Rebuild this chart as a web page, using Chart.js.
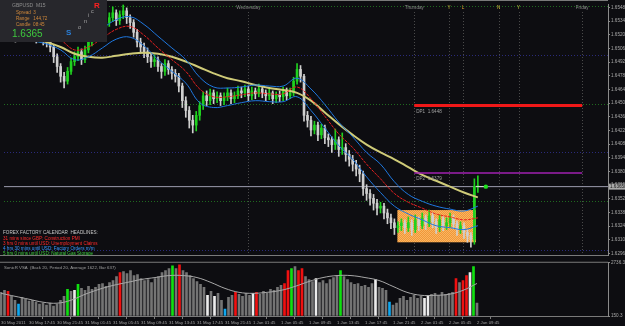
<!DOCTYPE html>
<html>
<head>
<meta charset="utf-8">
<script src="https://cdn.jsdelivr.net/npm/chart.js@4.4.1/dist/chart.umd.min.js"></script>
<style>
  html, body { margin: 0; padding: 0; background: #0d0d11; }
  #wrap { position: relative; width: 625px; height: 326px; overflow: hidden; background: #0d0d11; }
  #priceBox { position: absolute; left: 0; top: 0; width: 625px; height: 259px; }
  #volBox { position: absolute; left: 0; top: 259px; width: 625px; height: 67px; }
</style>
</head>
<body>
<div id="wrap">
  <div id="priceBox"><canvas id="price"></canvas></div>
  <div id="volBox"><canvas id="vol"></canvas></div>
</div>
<script>
// GBPUSD M15, one candle per 30 minutes
const opens = [
  1.6520,1.6523,1.6525,1.6521,1.6518,1.6523,1.6526,1.6528,1.6523,1.6520,
  1.6517,1.6519,1.6515,1.6513,1.6508,1.6498,1.6488,1.6478,1.6473,1.6483,
  1.6493,1.6498,1.6503,1.6495,1.6505,1.6513,1.6518,1.6523,1.6525,1.6528,
  1.6533,1.6538,1.6543,1.6535,1.6541,1.6545,1.6538,1.6533,1.6523,1.6513,
  1.6508,1.6503,1.6498,1.6493,1.6495,1.6488,1.6483,1.6491,1.6485,1.6481,
  1.6478,1.6468,1.6453,1.6443,1.6433,1.6428,1.6438,1.6448,1.6458,1.6453,
  1.6461,1.6455,1.6458,1.6453,1.6457,1.6461,1.6455,1.6458,1.6463,1.6461,
  1.6465,1.6458,1.6463,1.6460,1.6465,1.6461,1.6458,1.6461,1.6455,1.6459,
  1.6457,1.6463,1.6458,1.6461,1.6473,1.6485,1.6478,1.6438,1.6433,1.6423,
  1.6428,1.6418,1.6425,1.6415,1.6413,1.6408,1.6413,1.6403,1.6405,1.6398,
  1.6393,1.6388,1.6383,1.6378,1.6363,1.6358,1.6353,1.6348,1.6343,1.6345,
  1.6338,1.6333,1.6328,1.6323,1.6325,1.6328,1.6323,1.6328,1.6321,1.6331,
  1.6325,1.6333,1.6327,1.6335,1.6329,1.6323,1.6331,1.6325,1.6328,1.6333,
  1.6327,1.6321,1.6325,1.6318,1.6315,1.6311,1.6365
];
const highs = [
  1.6527,1.6530,1.6528,1.6524,1.6526,1.6531,1.6533,1.6530,1.6526,1.6523,
  1.6524,1.6521,1.6519,1.6516,1.6510,1.6501,1.6491,1.6482,1.6487,1.6497,
  1.6503,1.6508,1.6506,1.6509,1.6518,1.6523,1.6528,1.6531,1.6534,1.6538,
  1.6543,1.6549,1.6546,1.6545,1.6551,1.6548,1.6541,1.6536,1.6526,1.6517,
  1.6512,1.6507,1.6502,1.6500,1.6498,1.6491,1.6495,1.6494,1.6488,1.6485,
  1.6481,1.6471,1.6457,1.6447,1.6438,1.6442,1.6452,1.6462,1.6463,1.6465,
  1.6464,1.6462,1.6461,1.6461,1.6466,1.6464,1.6462,1.6468,1.6467,1.6469,
  1.6468,1.6467,1.6466,1.6470,1.6468,1.6464,1.6465,1.6463,1.6462,1.6463,
  1.6467,1.6466,1.6466,1.6477,1.6491,1.6489,1.6480,1.6442,1.6437,1.6432,
  1.6431,1.6429,1.6428,1.6419,1.6416,1.6424,1.6416,1.6420,1.6409,1.6402,
  1.6397,1.6392,1.6387,1.6381,1.6367,1.6362,1.6357,1.6352,1.6349,1.6348,
  1.6342,1.6337,1.6332,1.6329,1.6332,1.6331,1.6334,1.6331,1.6336,1.6334,
  1.6338,1.6336,1.6341,1.6338,1.6332,1.6336,1.6334,1.6333,1.6338,1.6336,
  1.6330,1.6329,1.6328,1.6321,1.6318,1.6373,1.6376
];
const lows = [
  1.6516,1.6519,1.6517,1.6513,1.6515,1.6520,1.6522,1.6519,1.6516,1.6512,
  1.6513,1.6510,1.6508,1.6503,1.6492,1.6482,1.6472,1.6466,1.6470,1.6480,
  1.6489,1.6494,1.6490,1.6492,1.6502,1.6509,1.6514,1.6519,1.6520,1.6524,
  1.6529,1.6534,1.6530,1.6531,1.6537,1.6532,1.6527,1.6518,1.6508,1.6503,
  1.6497,1.6492,1.6487,1.6488,1.6483,1.6476,1.6479,1.6480,1.6475,1.6472,
  1.6462,1.6446,1.6436,1.6425,1.6420,1.6422,1.6433,1.6444,1.6448,1.6449,
  1.6450,1.6451,1.6448,1.6449,1.6453,1.6450,1.6451,1.6455,1.6456,1.6457,
  1.6453,1.6454,1.6455,1.6457,1.6456,1.6453,1.6454,1.6450,1.6451,1.6452,
  1.6453,1.6454,1.6455,1.6458,1.6470,1.6472,1.6432,1.6426,1.6417,1.6419,
  1.6412,1.6414,1.6409,1.6406,1.6400,1.6403,1.6396,1.6398,1.6391,1.6386,
  1.6381,1.6376,1.6370,1.6356,1.6351,1.6346,1.6341,1.6336,1.6338,1.6332,
  1.6327,1.6322,1.6316,1.6318,1.6320,1.6317,1.6319,1.6315,1.6318,1.6320,
  1.6322,1.6321,1.6324,1.6323,1.6317,1.6319,1.6320,1.6321,1.6324,1.6322,
  1.6315,1.6317,1.6312,1.6308,1.6303,1.6306,1.6359
];
const closes = [
  1.6523,1.6525,1.6521,1.6518,1.6523,1.6526,1.6528,1.6523,1.6520,1.6517,
  1.6519,1.6515,1.6513,1.6508,1.6498,1.6488,1.6478,1.6473,1.6483,1.6493,
  1.6498,1.6503,1.6495,1.6505,1.6513,1.6518,1.6523,1.6525,1.6528,1.6533,
  1.6538,1.6543,1.6535,1.6541,1.6545,1.6538,1.6533,1.6523,1.6513,1.6508,
  1.6503,1.6498,1.6493,1.6495,1.6488,1.6483,1.6491,1.6485,1.6481,1.6478,
  1.6468,1.6453,1.6443,1.6433,1.6428,1.6438,1.6448,1.6458,1.6453,1.6461,
  1.6455,1.6458,1.6453,1.6457,1.6461,1.6455,1.6458,1.6463,1.6461,1.6465,
  1.6458,1.6463,1.6460,1.6465,1.6461,1.6458,1.6461,1.6455,1.6459,1.6457,
  1.6463,1.6458,1.6461,1.6473,1.6485,1.6478,1.6438,1.6433,1.6423,1.6428,
  1.6418,1.6425,1.6415,1.6413,1.6408,1.6413,1.6403,1.6405,1.6398,1.6393,
  1.6388,1.6383,1.6378,1.6363,1.6358,1.6353,1.6348,1.6343,1.6345,1.6338,
  1.6333,1.6328,1.6323,1.6325,1.6328,1.6323,1.6328,1.6321,1.6331,1.6325,
  1.6333,1.6327,1.6335,1.6329,1.6323,1.6331,1.6325,1.6328,1.6333,1.6327,
  1.6321,1.6325,1.6318,1.6315,1.6311,1.6365,1.6366
];

// moving averages, sampled every 8 M15 bars
const maU = [0,8,16,24,32,40,48,56,64,72,80,88,96,104,112,120,128,136,144,152,160,168,176,184,192,200,208,216,224,232,240,248,256,264,272];
const yellowMA = [1.6518,1.6517,1.6516,1.6513,1.6508,1.6501,1.6498,1.6497,1.6499,1.6501,1.6502,1.6501,1.6498,1.6493,1.6487,1.6481,1.6476,1.6473,1.6469,1.6466,1.6464,1.6461,1.6453,1.6441,1.6429,1.6418,1.6408,1.6400,1.6393,1.6385,1.6377,1.6371,1.6365,1.6359,1.6354];
const redMA = [1.6523,1.6523,1.6522,1.6520,1.6515,1.6505,1.6508,1.6517,1.6526,1.6529,1.6520,1.6507,1.6495,1.6483,1.6465,1.6457,1.6457,1.6459,1.6461,1.6460,1.6460,1.6467,1.6455,1.6437,1.6419,1.6405,1.6388,1.6373,1.6358,1.6349,1.6343,1.6337,1.6334,1.6331,1.6333];
const blueUpper = [1.6531,1.6531,1.6530,1.6528,1.6524,1.6515,1.6518,1.6527,1.6536,1.6539,1.6531,1.6519,1.6507,1.6495,1.6477,1.6467,1.6466,1.6467,1.6469,1.6468,1.6468,1.6476,1.6465,1.6449,1.6431,1.6416,1.6400,1.6388,1.6370,1.6357,1.6350,1.6345,1.6342,1.6340,1.6345];
const blueLower = [1.6515,1.6515,1.6514,1.6511,1.6505,1.6495,1.6498,1.6507,1.6516,1.6518,1.6509,1.6495,1.6483,1.6471,1.6451,1.6446,1.6448,1.6451,1.6453,1.6452,1.6452,1.6457,1.6443,1.6425,1.6407,1.6393,1.6375,1.6359,1.6345,1.6337,1.6331,1.6325,1.6323,1.6321,1.6325];

// SonicR VSA volume per candle and its bar kind (n normal, r red, g green, w white, b blue)
const volumes = [
  1300,1396,1348,1108,917,725,1060,965,869,917,
  821,725,773,677,773,629,725,917,1108,1444,
  1348,1396,1683,1491,1396,1587,1444,1539,1683,1731,
  1587,1779,1875,2066,2258,2306,2210,2354,2114,2162,
  1970,1875,1922,1779,1970,2066,2258,2354,2450,2593,
  2450,2641,2354,2258,2114,1970,1827,1683,1539,1156,
  1348,1108,1252,917,486,1060,1156,1300,1204,1108,
  1252,1156,1252,1300,1204,1348,1252,1444,1396,1539,
  1635,1731,2354,2450,2545,2354,2450,2066,1922,1827,
  1970,1779,1875,1731,1922,2018,2114,2354,2066,1922,
  1779,1683,1731,1587,1635,1539,1731,1922,1539,1491,
  1396,821,677,773,1012,1108,917,1060,1156,1012,
  1108,1012,1156,1204,1252,1156,1300,1204,1252,1300,
  1970,1779,1875,2114,2258,2545,773
];
const volKinds = ('nnrnnbnnnn' + 'nnnnnnnnng' + 'nwgnnnnnnn' + 'nnnnrnnnnn' + 'nnnnnnnnng' +
  'nrnnnnnnnw' + 'nwnnbnnrnn' + 'nnwrnnnnnn' + 'nrrgnrrnnn' + 'wnnnnnngnn' +
  'nnnnnnnwnn' + 'nbnnnnnnnn' + 'nwwnnnnnnn' + 'rnrrwgn').split('');
const volAverage = [1252,1108,965,821,773,917,1204,1444,1635,1779,1922,2018,2114,2114,2018,1779,1491,1300,1252,1300,1396,1587,1827,2018,2114,2114,2018,1875,1587,1300,1156,1156,1204,1396,1731];
const volMin = 150.3, volMax = 2736.3;

// axes
const priceTicks = [1.65485,1.65345,1.65205,1.65065,1.64925,1.64785,1.64645,1.64505,1.64365,1.64225,1.64085,1.63945,1.63805,1.63665,1.63525,1.63385,1.63245,1.63105,1.62965];
const timeTickU = [0,16,32,48,64,80,96,112,128,144,160,176,192,208,224,240,256,272];
const timeLabels = ['30 May 2011','30 May 17:45','30 May 21:45','31 May 01:45','31 May 05:45','31 May 09:45',
  '31 May 13:45','31 May 17:45','31 May 21:45','1 Jun 01:45','1 Jun 05:45','1 Jun 09:45',
  '1 Jun 13:45','1 Jun 17:45','1 Jun 21:45','2 Jun 01:45','2 Jun 05:45','2 Jun 09:45'];

// levels and markers
const lastPrice = 1.6365;
const dp1 = 1.6448, dp2 = 1.6379;
const dpU = [235.4, 332];
const roundLevels = [1.6550, 1.6500, 1.6450, 1.6400, 1.6350, 1.6300];
const separatorU = [140, 235.4, 255.4, 263.4, 284, 295.4, 332];
const separatorText = ['Wednesday', 'Thursday', 'Y', 'L', 'N', 'Y', 'Friday'];
const boxU = [225.7, 270.9];
const boxPrice = [1.6341, 1.6308];
const markerU = [270.9, 276.6];

const spread = 3, range = '144,72', candleTime = '08:45';
const headlines = [
  '31 mins since GBP: Construction PMI',
  '3 hrs 0 mins until USD: Unemployment Claims',
  '4 hrs 30 mins until USD: Factory Orders m/m',
  '5 hrs 0 mins until USD: Natural Gas Storage'
];

const FONT = '"Liberation Sans", Arial, sans-serif';
Chart.defaults.font.family = FONT;

const xMin = -0.57, xMax = 346.86;
const barU = opens.map((_, k) => k * 2);
const upCol = '#1fd21f', downCol = '#cfcfcf';
const candleCol = closes.map((c, k) => c >= opens[k] ? upCol : downCol);
const kindCol = { n: '#747474', r: '#f01010', g: '#10e010', w: '#ececec', b: '#10a8f0' };

const pts = (us, vs) => us.map((u, i) => ({ x: u, y: vs[i] }));

function txt(ctx, s, x, y, color, size, opts) {
  opts = opts || {};
  ctx.font = (opts.bold ? 'bold ' : '') + size + 'px ' + FONT;
  ctx.fillStyle = color;
  ctx.textAlign = opts.align || 'left';
  ctx.textBaseline = 'middle';
  ctx.fillText(s, x, y);
}

// orange dithered fill like the original rectangle
const pc = document.createElement('canvas');
pc.width = pc.height = 2;
const pctx = pc.getContext('2d');
pctx.fillStyle = '#f29638'; pctx.fillRect(0, 0, 2, 2);
pctx.fillStyle = '#f8b662'; pctx.fillRect(0, 0, 1, 1); pctx.fillRect(1, 1, 1, 1);

const backdrop = {
  id: 'backdrop',
  beforeDatasetsDraw(chart) {
    const { ctx, chartArea: a, scales: { x, y } } = chart;
    ctx.save();
    // round number levels
    ctx.lineWidth = 1;
    ctx.setLineDash([1, 2]);
    roundLevels.forEach(p => {
      const py = Math.round(y.getPixelForValue(p)) + 0.5;
      ctx.strokeStyle = Math.round(p * 10000) % 100 === 0 ? '#2a2a7a' : '#1f6a1f';
      ctx.beginPath(); ctx.moveTo(a.left, py); ctx.lineTo(a.right, py); ctx.stroke();
    });
    // day / session separators
    ctx.strokeStyle = '#4a4a4a';
    separatorU.forEach(u => {
      const px = Math.round(x.getPixelForValue(u)) + 0.5;
      ctx.beginPath(); ctx.moveTo(px, a.top + 8); ctx.lineTo(px, a.bottom); ctx.stroke();
    });
    ctx.setLineDash([]);
    // box
    const bx0 = x.getPixelForValue(boxU[0]), bx1 = x.getPixelForValue(boxU[1]);
    const by0 = y.getPixelForValue(boxPrice[0]), by1 = y.getPixelForValue(boxPrice[1]);
    ctx.fillStyle = ctx.createPattern(pc, 'repeat');
    ctx.fillRect(bx0, by0, bx1 - bx0, by1 - by0);
    ctx.restore();
  },
  afterDraw(chart) {
    const { ctx, chartArea: a, scales: { x, y } } = chart;
    ctx.save();
    // frame lines
    ctx.strokeStyle = '#7a7a7a'; ctx.lineWidth = 1;
    ctx.beginPath(); ctx.moveTo(0, 0.5); ctx.lineTo(a.right, 0.5); ctx.stroke();
    ctx.beginPath(); ctx.moveTo(0, a.bottom + 0.5); ctx.lineTo(a.right, a.bottom + 0.5); ctx.stroke();

    // separator captions
    const capCol = ['#8a8a8a', '#8a8a8a', '#d8c040', '#e0a030', '#d8c040', '#c8d040', '#8a8a8a'];
    separatorU.forEach((u, i) => {
      txt(ctx, separatorText[i], x.getPixelForValue(u), a.top + 4, capCol[i], 4.6, { align: 'center' });
    });

    // pivot labels
    txt(ctx, 'DP1  ' + dp1.toFixed(4), x.getPixelForValue(dpU[0]) + 2, y.getPixelForValue(dp1) + 6, '#a0a0a0', 4.6);
    txt(ctx, 'DP2  ' + dp2.toFixed(4), x.getPixelForValue(dpU[0]) + 2, y.getPixelForValue(dp2) + 6, '#a0a0a0', 4.6);

    // current price tag on the axis
    const py = y.getPixelForValue(lastPrice);
    ctx.fillStyle = '#a9a9a9';
    ctx.fillRect(a.right + 1, py - 3, 20, 6);
    txt(ctx, lastPrice.toFixed(5), a.right + 2, py, '#161616', 4.6);

    // info panel
    ctx.fillStyle = '#27272c';
    ctx.fillRect(0, 0, 107, 42);
    txt(ctx, 'GBPUSD  M15', 12, 6, '#8e8e8e', 5);
    txt(ctx, 'Spread  ' + spread, 16, 13, '#d0883a', 4.6);
    txt(ctx, 'Range   ' + range, 16, 19, '#d0883a', 4.6);
    txt(ctx, 'Candle  ' + candleTime, 16, 25, '#d0883a', 4.6);
    txt(ctx, lastPrice.toFixed(4), 12, 34, '#3ec83e', 10);
    txt(ctx, 'S', 66, 33, '#2a7fd8', 8, { bold: true });
    txt(ctx, 'o', 78, 27, '#a8a8a8', 5.5);
    txt(ctx, 'n', 84, 21, '#a8a8a8', 5.5);
    txt(ctx, 'i', 88, 15, '#a8a8a8', 5.5);
    txt(ctx, 'c', 91, 11, '#a8a8a8', 5.5);
    txt(ctx, 'R', 94, 6, '#ff2020', 8, { bold: true });

    // calendar headlines
    txt(ctx, 'FOREX FACTORY CALENDAR  HEADLINES:', 3, 233, '#c8c8c8', 4.6);
    const hCol = ['#ff2a2a', '#ff2a2a', '#3a96ff', '#3cc83c'];
    headlines.forEach((h, i) => txt(ctx, h, 3, 238.5 + i * 5, hCol[i], 4.6));
    ctx.restore();
  }
};

new Chart(document.getElementById('price'), {
  type: 'bar',
  data: {
    datasets: [
      { type: 'line', data: pts(maU, blueUpper), borderColor: '#1f78e0', borderWidth: 1, tension: 0.4, pointRadius: 0, order: 1 },
      { type: 'line', data: pts(maU, blueLower), borderColor: '#1f78e0', borderWidth: 1, tension: 0.4, pointRadius: 0, order: 1 },
      { type: 'line', data: pts(maU, redMA), borderColor: '#e82020', borderWidth: 1, borderDash: [3, 1], tension: 0.4, pointRadius: 0, order: 1 },
      { type: 'line', data: pts(maU, yellowMA), borderColor: '#cfcb78', borderWidth: 2, tension: 0.4, pointRadius: 0, order: 1 },
      { type: 'line', data: pts(dpU, [dp1, dp1]), borderColor: '#f01818', borderWidth: 3, pointRadius: 0, order: 0 },
      { type: 'line', data: pts(dpU, [dp2, dp2]), borderColor: '#a020b0', borderWidth: 1.5, pointRadius: 0, order: 0 },
      { type: 'line', data: pts(markerU, [lastPrice, lastPrice]), borderColor: '#e0e0e0', borderWidth: 1,
        pointRadius: [0, 2.2], pointBackgroundColor: '#20e020', pointBorderWidth: 0, order: 0 },
      { data: barU.map((u, k) => ({ x: u, y: [opens[k], closes[k]] })), backgroundColor: candleCol,
        barThickness: 2, minBarLength: 1, grouped: false, order: 2 },
      { data: barU.map((u, k) => ({ x: u, y: [lows[k], highs[k]] })), backgroundColor: candleCol,
        barThickness: 1, grouped: false, order: 3 },
      { type: 'line', data: pts([xMin, xMax], [lastPrice, lastPrice]), borderColor: '#9c9cae', borderWidth: 1, pointRadius: 0, order: 4 }
    ]
  },
  options: {
    responsive: true, maintainAspectRatio: false, animation: false, devicePixelRatio: 1,
    layout: { padding: { top: 1, right: 0, bottom: 1, left: 0 } },
    plugins: { legend: { display: false }, tooltip: { enabled: false } },
    scales: {
      x: { type: 'linear', min: xMin, max: xMax, offset: false, display: false },
      y: {
        position: 'right', min: 1.6295, max: 1.6552,
        afterFit: s => { s.width = 17; },
        afterBuildTicks: s => { s.ticks = priceTicks.map(v => ({ value: v })); },
        ticks: { color: '#a8a8a8', font: { size: 4.6 }, padding: 1, callback: v => v.toFixed(5) },
        grid: { drawOnChartArea: false, tickLength: 2, color: '#8a8a8a' },
        border: { color: '#8a8a8a' }
      }
    }
  },
  plugins: [backdrop]
});

const volLabel = {
  id: 'volLabel',
  afterDraw(chart) {
    const { ctx, chartArea: a } = chart;
    ctx.save();
    ctx.strokeStyle = '#7a7a7a'; ctx.lineWidth = 1;
    ctx.beginPath(); ctx.moveTo(0, a.top - 0.5); ctx.lineTo(a.right, a.top - 0.5); ctx.stroke();
    txt(ctx, 'SonicR VSA  (Back 20, Period 20, Average 1622, Bar 637)', 4, a.top + 5, '#a0a0a0', 4.3);
    ctx.restore();
  }
};

new Chart(document.getElementById('vol'), {
  type: 'bar',
  data: {
    datasets: [
      { type: 'line', data: pts(maU, volAverage), borderColor: '#a8a8a8', borderWidth: 1, tension: 0.4, pointRadius: 0, order: 0 },
      { data: barU.map((u, k) => ({ x: u, y: volumes[k] })), backgroundColor: volKinds.map(t => kindCol[t]),
        base: volMin, barThickness: 2, grouped: false, order: 1 }
    ]
  },
  options: {
    responsive: true, maintainAspectRatio: false, animation: false, devicePixelRatio: 1,
    layout: { padding: { top: 3, right: 0, bottom: 0, left: 0 } },
    plugins: { legend: { display: false }, tooltip: { enabled: false } },
    scales: {
      x: {
        type: 'linear', min: xMin, max: xMax, offset: false,
        afterFit: s => { s.height = 10; },
        afterBuildTicks: s => { s.ticks = timeTickU.map(v => ({ value: v })); },
        ticks: { color: '#a0a0a0', font: { size: 4.3 }, padding: 1, align: 'start', maxRotation: 0, autoSkip: false,
          callback: (v, i) => timeLabels[i] },
        grid: { drawOnChartArea: false, tickLength: 3, color: '#7a7a7a' },
        border: { color: '#7a7a7a' }
      },
      y: {
        position: 'right', min: volMin, max: volMax,
        afterFit: s => { s.width = 17; },
        afterBuildTicks: s => { s.ticks = [volMax, volMin].map(v => ({ value: v })); },
        ticks: { color: '#a8a8a8', font: { size: 4.6 }, padding: 1, callback: v => v.toFixed(1) },
        grid: { drawOnChartArea: false, tickLength: 2, color: '#8a8a8a' },
        border: { color: '#8a8a8a' }
      }
    }
  },
  plugins: [volLabel]
});
</script>
</body>
</html>
